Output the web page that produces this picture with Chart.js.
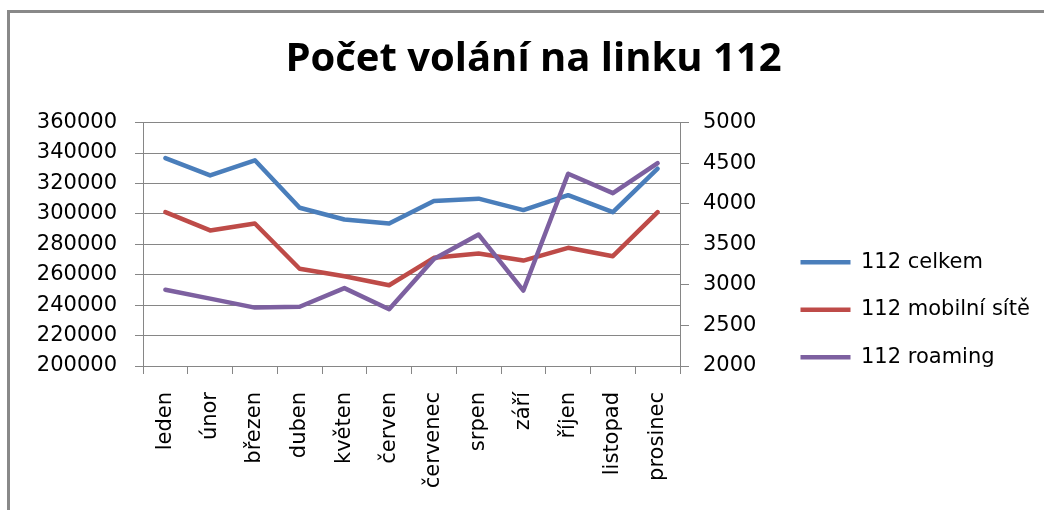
<!DOCTYPE html>
<html>
<head>
  <meta charset="utf-8" />
  <title>Počet volání na linku 112</title>
  <script src="https://cdn.jsdelivr.net/npm/chart.js"></script>
  <style>
    html, body { margin: 0; padding: 0; background: #fff; }
    #wrap { position: relative; width: 1044px; height: 510px; overflow: hidden; }
    #frame { position: absolute; left: 7px; top: 10px; right: -10px; bottom: -10px;
             border-top: 3px solid #898989; border-left: 3px solid #898989; pointer-events: none; }
  </style>
</head>
<body>
<div id="wrap">
  <canvas id="chart" width="1044" height="510"></canvas>
  <div id="frame"></div>
</div>
<script>
const months = ['leden', 'únor', 'březen', 'duben', 'květen', 'červen', 'červenec', 'srpen', 'září', 'říjen', 'listopad', 'prosinec'];
const celkem = [336700, 325300, 335200, 304000, 296300, 293700, 308400, 310000, 302500, 312300, 301100, 329700];
const mobilni = [301100, 289100, 293700, 263900, 259000, 253100, 271100, 273900, 269300, 277700, 272200, 301100];
const roaming = [2940, 2830, 2720, 2730, 2960, 2700, 3320, 3620, 2930, 4370, 4130, 4500];
const seriesNames = ['112 celkem', '112 mobilní sítě', '112 roaming'];

const gray = '#868686';
const tickFont = { family: 'DejaVu Sans', size: 21 };
const plain = v => String(v);

function line(label, data, color, axis, order) {
  return {
    label, data, yAxisID: axis, order,
    borderColor: color, backgroundColor: color,
    borderWidth: 4.5, tension: 0, pointRadius: 0, pointHoverRadius: 0,
    borderCapStyle: 'round', borderJoinStyle: 'round', pointStyle: 'line'
  };
}

// the layout caps side boxes at a sixth of the width, the legend here needs more
const wideLegend = {
  id: 'wideLegend',
  beforeLayout(chart) {
    const lg = chart.legend;
    if (!lg || lg._wide) return;
    const fit = lg.fit;
    lg.fit = function () { fit.call(this); this.width = 270; };
    lg._wide = true;
  }
};

new Chart(document.getElementById('chart'), {
  type: 'line',
  data: {
    labels: months,
    datasets: [
      line(seriesNames[0], celkem, '#4A7EBB', 'y', 2),
      line(seriesNames[1], mobilni, '#BE4B48', 'y', 1),
      line(seriesNames[2], roaming, '#7D60A0', 'y1', 0)
    ]
  },
  plugins: [wideLegend],
  options: {
    responsive: false,
    animation: false,
    devicePixelRatio: 1,
    layout: { padding: { top: 10, left: 23, right: 0, bottom: 0 } },
    plugins: {
      tooltip: { enabled: false },
      title: {
        display: true,
        text: 'Počet volání na linku 112',
        color: '#000',
        font: { family: 'Open Sans', size: 40, weight: 'bold' },
        padding: { top: 26, bottom: 38.6 }
      },
      legend: {
        position: 'right',
        align: 'center',
        title: { display: true, text: '', padding: { top: 78, bottom: 0 }, font: { size: 18 } },
        labels: {
          usePointStyle: true,
          pointStyleWidth: 50,
          padding: 26.5,
          color: '#000',
          font: tickFont,
          sort: (a, b) => a.datasetIndex - b.datasetIndex
        }
      }
    },
    scales: {
      x: {
        offset: true,
        grid: { offset: true, drawOnChartArea: false, color: gray, tickColor: gray, tickLength: 8 },
        border: { color: gray, width: 1 },
        ticks: { color: '#000', font: tickFont, minRotation: 90, maxRotation: 90, autoSkip: false, padding: 18 },
        afterFit: s => { s.height = 144; }
      },
      y: {
        position: 'left',
        min: 200000, max: 360000,
        grid: { color: gray, tickColor: gray, tickLength: 8 },
        border: { color: gray, width: 1 },
        ticks: { stepSize: 20000, color: '#000', font: tickFont, padding: 18, callback: plain },
        afterFit: s => { s.width = 120; }
      },
      y1: {
        position: 'right',
        min: 2000, max: 5000,
        grid: { drawOnChartArea: false, color: gray, tickColor: gray, tickLength: 9 },
        border: { color: gray, width: 1 },
        ticks: { stepSize: 500, color: '#000', font: tickFont, padding: 14, callback: plain },
        afterFit: s => { s.width = 94; }
      }
    }
  }
});
</script>
</body>
</html>
